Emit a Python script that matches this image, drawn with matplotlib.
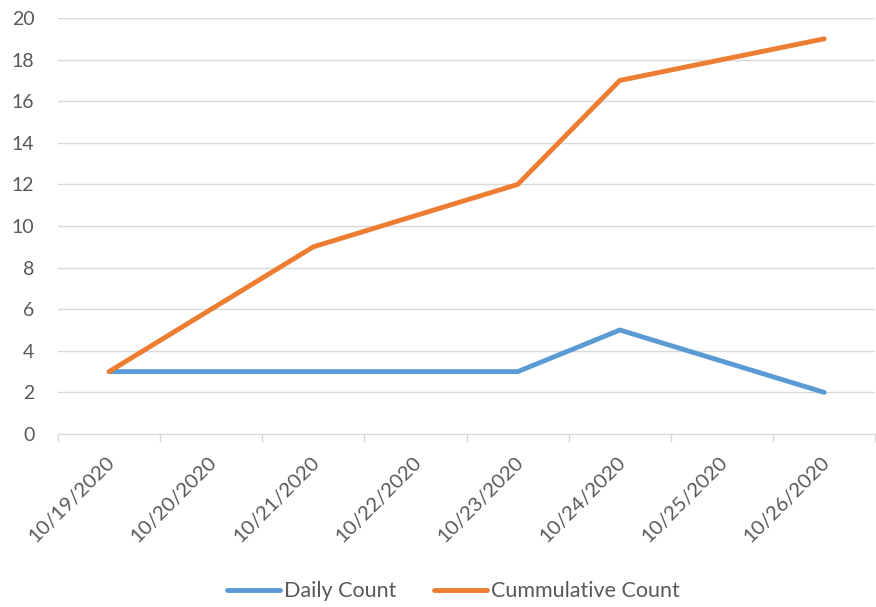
import matplotlib.pyplot as plt
import matplotlib.transforms as mtransforms

# data
dates = ['10/19/2020', '10/20/2020', '10/21/2020', '10/22/2020',
         '10/23/2020', '10/24/2020', '10/25/2020', '10/26/2020']
obs_idx = [0, 2, 4, 5, 7]
daily = [3, 3, 3, 5, 2]
cumulative = [3, 9, 12, 17, 19]

plt.rcParams['font.family'] = ['Lato', 'DejaVu Sans']

fig = plt.figure(figsize=(8.76, 6.07), dpi=100)
ax = fig.add_axes([0.0662, 0.285, 0.933, 0.6853])

ax.plot(obs_idx, daily, color='#5B9BD5', lw=3.5, solid_capstyle='round',
        solid_joinstyle='round', label='Daily Count', zorder=3)
ax.plot(obs_idx, cumulative, color='#ED7D31', lw=3.5, solid_capstyle='round',
        solid_joinstyle='round', label='Cummulative Count', zorder=3)

ax.set_xlim(-0.5, len(dates) - 0.5)
ax.set_ylim(0, 20)
ax.set_yticks(range(0, 21, 2))
ax.grid(axis='y', color='#D9D9D9', lw=1)
ax.set_axisbelow(True)

ax.set_xticks(range(len(dates)))
ax.set_xticklabels(dates, rotation=45, ha='right', va='top',
                   rotation_mode='anchor', fontsize=14.7, color='#595959')
ax.tick_params(axis='x', length=0, pad=14)
shift = mtransforms.ScaledTranslation(-3 / 100, 0, fig.dpi_scale_trans)
for lbl in ax.get_xticklabels():
    lbl.set_transform(lbl.get_transform() + shift)
ax.set_xticks([i - 0.5 for i in range(len(dates) + 1)], minor=True)
ax.tick_params(axis='x', which='minor', length=6, color='#D9D9D9', width=1)
ax.tick_params(axis='y', length=0, labelsize=14, labelcolor='#595959', pad=17)

for s in ['top', 'right', 'left']:
    ax.spines[s].set_visible(False)
ax.spines['bottom'].set_color('#D9D9D9')

fig.legend(loc='center', bbox_to_anchor=(0.518, 0.026), ncol=2, frameon=False,
           fontsize=15.5, labelcolor='#595959', handlelength=2.45,
           handletextpad=0.2, columnspacing=1.75)

fig.savefig('out.png', dpi=100)
